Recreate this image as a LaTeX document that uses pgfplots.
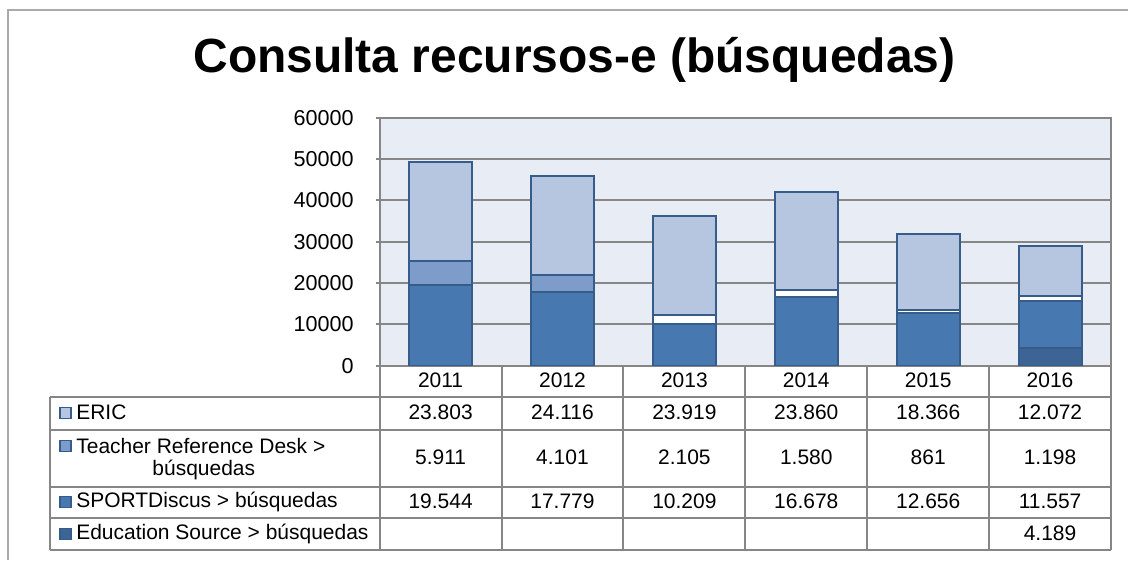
\documentclass[border=0pt]{standalone}
\usepackage{fontspec}
\setmainfont{Liberation Sans}
\usepackage{pgfplots}
\pgfplotsset{compat=1.18}

\definecolor{bgc}{RGB}{232,236,244}
\definecolor{ericc}{RGB}{183,198,224}
\definecolor{teachc}{RGB}{126,156,201}
\definecolor{sportc}{RGB}{72,120,176}
\definecolor{educc}{RGB}{60,100,148}
\definecolor{edgec}{RGB}{54,92,140}
\definecolor{gridc}{RGB}{134,134,134}

\newcommand\tf{\fontsize{10.5}{12}\selectfont}

\begin{document}
\begin{tikzpicture}
\begin{axis}[
  at={(0,0)}, anchor=south west, scale only axis,
  width=366pt, height=124pt,
  ybar stacked, bar width=31.5pt,
  xmin=-0.5, xmax=5.5, ymin=0, ymax=60000,
  xtick=\empty,
  ytick={0,10000,...,60000}, ytick pos=left, scaled y ticks=false,
  ymajorgrids, grid style={gridc, line width=1pt},
  axis line style={gridc, line width=1pt},
  ytick style={gridc, line width=1pt}, tick align=outside, major tick length=2pt,
  yticklabel style={font=\fontsize{10.8}{12}\selectfont, xshift=-7.5pt},
  /pgf/number format/1000 sep={}, /pgf/number format/assume math mode=true,
  axis background/.style={fill=bgc},
  every axis plot/.append style={draw=edgec, line width=1pt},
]
% Education Source
\addplot[fill=educc] coordinates {(0,0) (1,0) (2,0) (3,0) (4,0) (5,4189)};
% SPORTDiscus
\addplot[fill=sportc] coordinates {(0,19544) (1,17779) (2,10209) (3,16678) (4,12656) (5,11557)};
% Teacher Reference Desk (blue 2011-2012, white after)
\addplot[fill=teachc] coordinates {(0,5911) (1,4101) (2,0) (3,0) (4,0) (5,0)};
\addplot[fill=white] coordinates {(0,0) (1,0) (2,2105) (3,1580) (4,861) (5,1198)};
% ERIC
\addplot[fill=ericc] coordinates {(0,23803) (1,24116) (2,23919) (3,23860) (4,18366) (5,12072)};
\end{axis}

\begin{scope}[x=0.5pt, y=-0.5pt, shift={(-380,-366)}]
  \path (0,0) rectangle (1129,560);
  \draw[gridc!70, line width=1pt] (8,560) -- (8,10) -- (1129,10);
  \node[font=\fontsize{24}{28}\selectfont\bfseries] at (575,60) {Consulta recursos-e (búsquedas)};
  % table grid
  \begin{scope}[gridc, line width=1pt]
    \foreach \yy in {397,430,487,518,550} \draw (50,\yy) -- (1112,\yy);
    \draw (50,397) -- (50,550);
    \foreach \xx in {380,502,624,746,868,990,1112} \draw (\xx,366) -- (\xx,550);
  \end{scope}
  % header
  \foreach \yr [count=\i from 0] in {2011,2012,2013,2014,2015,2016}
    \node[font=\tf] at (441+122*\i,381) {\yr};
  % rows
  \foreach \v [count=\i from 0] in {23.803,24.116,23.919,23.860,18.366,12.072}
    \node[font=\tf] at (441+122*\i,413) {\v};
  \foreach \v [count=\i from 0] in {5.911,4.101,2.105,1.580,861,1.198}
    \node[font=\tf] at (441+122*\i,458) {\v};
  \foreach \v [count=\i from 0] in {19.544,17.779,10.209,16.678,12.656,11.557}
    \node[font=\tf] at (441+122*\i,502) {\v};
  \node[font=\tf] at (1051,534) {4.189};
  % row labels with swatches
  \draw[edgec, fill=ericc, line width=0.6pt] (60,408) rectangle (71,419);
  \node[font=\tf, anchor=west, inner sep=0] at (76,413) {ERIC};
  \draw[edgec, fill=teachc, line width=0.6pt] (60,441) rectangle (71,452);
  \node[font=\tf, anchor=west, inner sep=0] at (76,446) {Teacher Reference Desk >};
  \node[font=\tf] at (204,470) {búsquedas};
  \draw[edgec, fill=sportc, line width=0.6pt] (60,497) rectangle (71,508);
  \node[font=\tf, anchor=west, inner sep=0] at (76,502) {SPORTDiscus > búsquedas};
  \draw[edgec, fill=educc, line width=0.6pt] (60,529) rectangle (71,540);
  \node[font=\tf, anchor=west, inner sep=0] at (76,534) {Education Source > búsquedas};
\end{scope}
\end{tikzpicture}
\end{document}
